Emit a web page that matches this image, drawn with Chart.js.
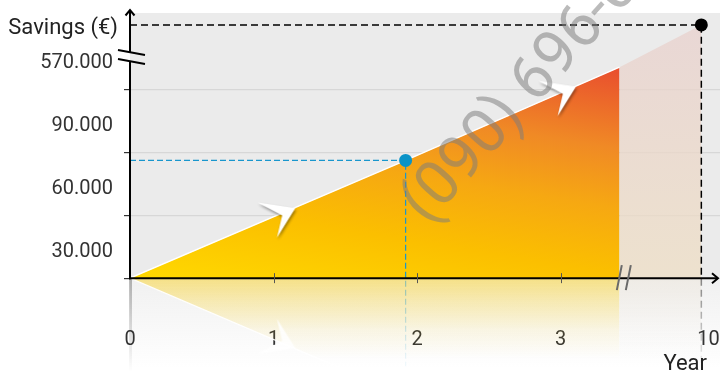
<!DOCTYPE html>
<html><head><meta charset="utf-8">
<script src="https://cdn.jsdelivr.net/npm/chart.js@4/dist/chart.umd.min.js"></script>
<style>html,body{margin:0;padding:0;background:#fff;}#wrap{width:720px;height:372px;}</style>
</head><body><div id="wrap"><canvas id="c" width="720" height="372"></canvas></div>
<script>
// ---- data (positions on the broken axes, in display units) ----
const xTickPositions = [0, 1, 2, 3, 4.03];
const xTickLabels = ['0', '1', '2', '3', '10'];
const yTickPositions = [0, 1, 2, 3];
const yTickLabels = ['30.000', '60.000', '90.000', '570.000'];
const savingsX = [0, 1.92, 3.41];
const savingsY = [0, 1.87, 3.35];
const projectionX = [3.41, 3.98];
const projectionY = [3.35, 4.02];
const highlightX = [1.92];
const highlightY = [1.87];
const targetX = [3.98];
const targetY = [4.02];
const arrowX = [1.02, 2.975];
const arrowY = [1.02, 2.95];
const yBreak = 3.51;
const xBreak = 3.44;
const xTitle = 'Year';
const yTitle = 'Savings (€)';
const watermark = '(090) 696-0';

const X_MIN = 0, X_MAX = 4.11, Y_MIN = -1.49, Y_MAX = 4.21, GUIDE_END = -1.4;
const FONT = 'Roboto, "Noto Sans", sans-serif';

const pts = (xs, ys) => xs.map((x, i) => ({ x, y: ys[i] }));
const mirror = (xs, ys) => xs.map((x, i) => ({ x, y: -ys[i] }));

function px(chart, v) { return chart.scales.x.getPixelForValue(v); }
function py(chart, v) { return chart.scales.y.getPixelForValue(v); }

function mainFill(ctx) {
  const chart = ctx.chart; if (!chart.chartArea) return '#f7b000';
  const x0 = px(chart, 0), y0 = py(chart, 0);
  const g = chart.ctx.createLinearGradient(x0, y0, x0 + 47, y0 - 290);
  g.addColorStop(0, '#ffd900');
  g.addColorStop(0.28, '#fbbf00');
  g.addColorStop(0.5, '#f6a812');
  g.addColorStop(0.7, '#f08a25');
  g.addColorStop(1, '#e8482f');
  return g;
}
function paleFill(ctx) {
  const chart = ctx.chart; if (!chart.chartArea) return '#ebe0d8';
  const g = chart.ctx.createLinearGradient(0, chart.chartArea.top, 0, py(chart, 0));
  g.addColorStop(0, 'rgba(232,208,206,0.75)');
  g.addColorStop(1, 'rgba(238,222,196,0.75)');
  return g;
}
function reflFill(r, gr, b, a0) {
  return (ctx) => {
    const chart = ctx.chart; if (!chart.chartArea) return 'rgba(0,0,0,0)';
    const y0 = py(chart, 0);
    const g = chart.ctx.createLinearGradient(0, y0, 0, y0 + 80);
    g.addColorStop(0, `rgba(${r},${gr},${b},${a0})`);
    g.addColorStop(0.3, `rgba(${r},${gr},${b},${a0 * 0.6})`);
    g.addColorStop(0.65, `rgba(${r},${gr},${b},${a0 * 0.2})`);
    g.addColorStop(1, `rgba(${r},${gr},${b},0)`);
    return g;
  };
}
function guideStroke(r, gr, b) {
  return (ctx) => {
    const chart = ctx.chart; if (!chart.chartArea) return `rgb(${r},${gr},${b})`;
    const top = chart.chartArea.top, bot = chart.height, y0 = py(chart, 0);
    const t0 = Math.min(1, Math.max(0, (y0 - top) / (bot - top)));
    const g = chart.ctx.createLinearGradient(0, top, 0, bot);
    g.addColorStop(0, `rgba(${r},${gr},${b},1)`);
    g.addColorStop(t0, `rgba(${r},${gr},${b},1)`);
    g.addColorStop(Math.min(1, t0 + 0.001), `rgba(${r},${gr},${b},0.45)`);
    g.addColorStop(1, `rgba(${r},${gr},${b},0.03)`);
    return g;
  };
}
function makeChevron(flip, alpha, shadow) {
  const c = document.createElement('canvas'); c.width = 52; c.height = 56;
  const g = c.getContext('2d');
  g.translate(26, 28);
  if (flip) g.scale(1, -1);
  g.scale(1.05, 1.05);
  if (shadow) { g.shadowColor = 'rgba(0,0,0,0.4)'; g.shadowBlur = 3; g.shadowOffsetX = 1; g.shadowOffsetY = 2; }
  g.beginPath(); g.moveTo(-18, -11); g.lineTo(18, -5.5); g.lineTo(0.5, 22.5); g.lineTo(5.5, 1.5); g.closePath();
  g.fillStyle = `rgba(255,255,255,${alpha})`; g.fill();
  return c;
}
const chevron = makeChevron(false, 1, true);
const chevronReflected = makeChevron(true, 0.85, false);

const bgPlugin = {
  id: 'bg',
  afterLayout(chart) {
    const s = chart.scales.x;
    s.bottom = chart.chartArea.bottom;
    s.top = s.bottom - 50;
  },
  beforeDraw(chart) {
    const { ctx, chartArea: a } = chart;
    const y0 = py(chart, 0);
    ctx.save();
    ctx.fillStyle = '#ebebeb';
    ctx.fillRect(a.left, a.top, a.right - a.left, y0 - a.top);
    const g = ctx.createLinearGradient(0, y0, 0, y0 + 90);
    g.addColorStop(0, 'rgba(228,228,228,0.55)');
    g.addColorStop(1, 'rgba(228,228,228,0)');
    ctx.fillStyle = g;
    ctx.fillRect(a.left, y0, a.right - a.left, chart.height - y0);
    ctx.restore();
  }
};

const axesPlugin = {
  id: 'axes',
  afterDatasetsDraw(chart) {
    const { ctx, chartArea: a } = chart;
    const x0 = px(chart, 0), y0 = py(chart, 0);
    ctx.save();
    // watermark
    ctx.save();
    ctx.translate(px(chart, 2.07), py(chart, 0.83));
    ctx.rotate(-48 * Math.PI / 180);
    ctx.font = '62px ' + FONT;
    ctx.fillStyle = 'rgba(125,125,125,0.52)';
    ctx.textBaseline = 'alphabetic';
    ctx.textAlign = 'left';
    ctx.fillText(watermark, 0, 0);
    ctx.restore();

    // reflection of y axis
    let g = ctx.createLinearGradient(0, y0, 0, chart.height);
    g.addColorStop(0, 'rgba(0,0,0,0.28)');
    g.addColorStop(1, 'rgba(0,0,0,0)');
    ctx.fillStyle = g;
    ctx.fillRect(x0 - 1, y0, 3, chart.height - y0);

    ctx.strokeStyle = '#000'; ctx.lineWidth = 2; ctx.lineCap = 'butt';
    const yb = py(chart, yBreak);
    ctx.beginPath();
    ctx.moveTo(x0, y0 + 1); ctx.lineTo(x0, yb + 4);
    ctx.moveTo(x0, yb - 4); ctx.lineTo(x0, a.top - 3);
    ctx.stroke();
    ctx.beginPath();
    ctx.moveTo(x0 - 4.5, a.top + 2.5); ctx.lineTo(x0, a.top - 3); ctx.lineTo(x0 + 4.5, a.top + 2.5);
    ctx.stroke();
    ctx.beginPath();
    ctx.moveTo(x0 - 12, yb - 7); ctx.lineTo(x0 + 15, yb - 2);
    ctx.moveTo(x0 - 12, yb + 2); ctx.lineTo(x0 + 15, yb + 7);
    ctx.stroke();

    const xe = a.right - 2;
    ctx.beginPath();
    ctx.moveTo(x0 - 1, y0); ctx.lineTo(xe, y0);
    ctx.stroke();
    ctx.beginPath();
    ctx.moveTo(xe - 6, y0 - 5); ctx.lineTo(xe, y0); ctx.lineTo(xe - 6, y0 + 5);
    ctx.stroke();
    ctx.strokeStyle = '#555'; ctx.lineWidth = 1;
    ctx.beginPath();
    [1, 2, 3].forEach(v => { const x = Math.round(px(chart, v)) + 0.5; ctx.moveTo(x, y0 - 5); ctx.lineTo(x, y0 + 5); });
    ctx.stroke();
    const xb = px(chart, xBreak);
    ctx.strokeStyle = '#6a6a6a'; ctx.lineWidth = 2;
    ctx.beginPath();
    ctx.moveTo(xb - 7, y0 + 12); ctx.lineTo(xb - 2, y0 - 13);
    ctx.moveTo(xb + 2, y0 + 12); ctx.lineTo(xb + 7, y0 - 13);
    ctx.stroke();

    ctx.fillStyle = '#222';
    ctx.font = '22px ' + FONT;
    ctx.textAlign = 'right';
    ctx.textBaseline = 'alphabetic';
    ctx.fillText(yTitle, x0 - 12, a.top + 21);
    ctx.fillText(xTitle, a.right - 13, chart.height - 2);
    ctx.restore();
  }
};

new Chart(document.getElementById('c'), {
  type: 'line',
  data: {
    datasets: [
      { label: 'target', data: pts(targetX, targetY), showLine: false, pointRadius: 6.5, pointHoverRadius: 6.5,
        pointBackgroundColor: '#000', pointBorderWidth: 0, order: 0 },
      { label: 'highlight', data: pts(highlightX, highlightY), showLine: false, pointRadius: 6.5, pointHoverRadius: 6.5,
        pointBackgroundColor: '#0a93c7', pointBorderWidth: 0, order: 0 },
      { label: 'arrows', data: pts(arrowX, arrowY), showLine: false, pointStyle: chevron, pointRadius: 5, order: 1 },
      { label: 'arrowsReflection', data: mirror(arrowX, arrowY), showLine: false, pointStyle: chevronReflected, pointRadius: 5, order: 4 },
      { label: 'blueGuide', data: [{ x: X_MIN, y: highlightY[0] }, { x: highlightX[0], y: highlightY[0] }, { x: highlightX[0], y: GUIDE_END }],
        borderColor: guideStroke(24, 150, 205), borderWidth: 1.2, borderDash: [6, 3], pointRadius: 0, fill: false, order: 2 },
      { label: 'blackGuide', data: [{ x: X_MIN, y: targetY[0] }, { x: targetX[0], y: targetY[0] }, { x: targetX[0], y: GUIDE_END }],
        borderColor: guideStroke(0, 0, 0), borderWidth: 1.5, borderDash: [7, 4], pointRadius: 0, fill: false, order: 2 },
      { label: 'savings', data: pts(savingsX, savingsY), fill: 'origin', backgroundColor: mainFill,
        borderColor: '#ffffff', borderWidth: 1.5, pointRadius: 0, tension: 0, order: 3 },
      { label: 'projection', data: pts(projectionX, projectionY), fill: 'origin', backgroundColor: paleFill,
        borderWidth: 0, borderColor: 'rgba(0,0,0,0)', pointRadius: 0, tension: 0, order: 4 },
      { label: 'savingsReflection', data: mirror(savingsX, savingsY), fill: 'origin', backgroundColor: reflFill(252, 208, 20, 0.48),
        borderColor: 'rgba(255,255,255,0.95)', borderWidth: 1.2, pointRadius: 0, tension: 0, order: 5 },
      { label: 'projectionReflection', data: mirror(projectionX, projectionY), fill: 'origin', backgroundColor: reflFill(238, 232, 222, 0.6),
        borderWidth: 0, borderColor: 'rgba(0,0,0,0)', pointRadius: 0, tension: 0, order: 6 }
    ]
  },
  options: {
    responsive: false,
    devicePixelRatio: 1,
    animation: false,
    layout: { autoPadding: false, padding: { top: 13, left: 0, right: 0, bottom: 0 } },
    plugins: { legend: { display: false }, tooltip: { enabled: false } },
    scales: {
      x: {
        type: 'linear', position: 'bottom', min: X_MIN, max: X_MAX, z: 1,
        grid: { display: false, drawTicks: false },
        border: { display: false },
        ticks: { autoSkip: false, maxRotation: 0, padding: 6, color: '#333', font: { family: FONT, size: 20 },
          callback: (v, i) => xTickLabels[i] },
        afterBuildTicks: s => { s.ticks = xTickPositions.map(v => ({ value: v })); },
        afterFit: s => { s.height = 0; s.paddingLeft = 0; s.paddingRight = 0; }
      },
      y: {
        type: 'linear', position: 'left', min: Y_MIN, max: Y_MAX,
        grid: { color: c => (c.tick && c.tick.value === 0) ? 'rgba(0,0,0,0)' : '#d7d7d7', lineWidth: 1.2,
          tickLength: 6, tickColor: '#333', drawTicks: true },
        border: { display: false },
        ticks: { autoSkip: false, labelOffset: -26, padding: 11, color: '#333', font: { family: FONT, size: 20 },
          callback: (v, i) => yTickLabels[i] },
        afterBuildTicks: s => { s.ticks = yTickPositions.map(v => ({ value: v })); },
        afterFit: s => { s.width = 130; s.paddingTop = 0; s.paddingBottom = 0; }
      }
    }
  },
  plugins: [bgPlugin, axesPlugin]
});
</script>
</body></html>
